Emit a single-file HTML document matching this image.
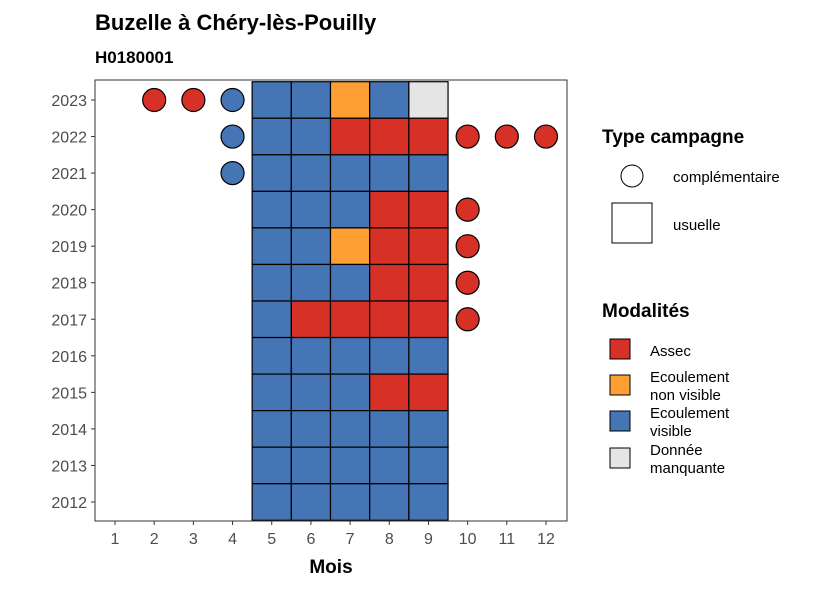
<!DOCTYPE html>
<html><head><meta charset="utf-8"><style>
body{margin:0;background:#fff;font-family:"Liberation Sans",sans-serif}
svg text{font-family:"Liberation Sans",sans-serif}
</style></head><body>
<svg id="c" width="826" height="590" xmlns="http://www.w3.org/2000/svg">
<text x="95" y="30" font-size="22" font-weight="bold" fill="#000">Buzelle à Chéry-lès-Pouilly</text>
<text x="95" y="63" font-size="17" font-weight="bold" fill="#000">H0180001</text>
<g id="marks"></g>
<rect x="95" y="80" width="472" height="441" fill="none" stroke="#333" stroke-width="1"/>
<g id="axes"></g>
<text x="331" y="573" font-size="19" font-weight="bold" text-anchor="middle">Mois</text>
<g>
<text x="602" y="143" font-size="19" font-weight="bold">Type campagne</text>
<circle cx="632" cy="176" r="11" fill="#fff" stroke="#000"/>
<text x="673" y="182" font-size="15">complémentaire</text>
<rect x="612" y="203" width="40" height="40" fill="#fff" stroke="#000"/>
<text x="673" y="230" font-size="15">usuelle</text>
</g>
<g>
<text x="602" y="317" font-size="19" font-weight="bold">Modalités</text>
<rect x="610" y="339" width="20" height="20" fill="#D73027" stroke="#000"/>
<text x="650" y="356" font-size="15">Assec</text>
<rect x="610" y="375" width="20" height="20" fill="#FD9F33" stroke="#000"/>
<text x="650" y="382" font-size="15"><tspan x="650">Ecoulement</tspan><tspan x="650" dy="18">non visible</tspan></text>
<rect x="610" y="411" width="20" height="20" fill="#4575B4" stroke="#000"/>
<text x="650" y="418" font-size="15"><tspan x="650">Ecoulement</tspan><tspan x="650" dy="18">visible</tspan></text>
<rect x="610" y="448" width="20" height="20" fill="#E5E5E5" stroke="#000"/>
<text x="650" y="455" font-size="15"><tspan x="650">Donnée</tspan><tspan x="650" dy="18">manquante</tspan></text>
</g>
</svg>
<script>
const years=[2023,2023,2023,2023,2023,2023,2023,2023,
2022,2022,2022,2022,2022,2022,2022,2022,2022,
2021,2021,2021,2021,2021,2021,
2020,2020,2020,2020,2020,2020,
2019,2019,2019,2019,2019,2019,
2018,2018,2018,2018,2018,2018,
2017,2017,2017,2017,2017,2017,
2016,2016,2016,2016,2016,
2015,2015,2015,2015,2015,
2014,2014,2014,2014,2014,
2013,2013,2013,2013,2013,
2012,2012,2012,2012,2012];
const months=[2,3,4,5,6,7,8,9,
4,5,6,7,8,9,10,11,12,
4,5,6,7,8,9,
5,6,7,8,9,10,
5,6,7,8,9,10,
5,6,7,8,9,10,
5,6,7,8,9,10,
5,6,7,8,9,
5,6,7,8,9,
5,6,7,8,9,
5,6,7,8,9,
5,6,7,8,9];
const types=["c","c","c","u","u","u","u","u",
"c","u","u","u","u","u","c","c","c",
"c","u","u","u","u","u",
"u","u","u","u","u","c",
"u","u","u","u","u","c",
"u","u","u","u","u","c",
"u","u","u","u","u","c",
"u","u","u","u","u","u","u","u","u","u","u","u","u","u","u","u","u","u","u","u","u","u","u","u","u"];
const values=["A","A","V","V","V","N","V","M",
"V","V","V","A","A","A","A","A","A",
"V","V","V","V","V","V",
"V","V","V","A","A","A",
"V","V","N","A","A","A",
"V","V","V","A","A","A",
"V","A","A","A","A","A",
"V","V","V","V","V",
"V","V","V","A","A",
"V","V","V","V","V",
"V","V","V","V","V",
"V","V","V","V","V"];
const xTicks=[1,2,3,4,5,6,7,8,9,10,11,12];
const yTicks=[2012,2013,2014,2015,2016,2017,2018,2019,2020,2021,2022,2023];
const colors={A:"#D73027",N:"#FD9F33",V:"#4575B4",M:"#E5E5E5"};
const NS="http://www.w3.org/2000/svg";
const xs=m=>115+(m-1)*(546-115)/11;
const ys=y=>502-(y-2012)*(502-100)/11;
const bw=(546-115)/11, bh=(502-100)/11;
const g=document.getElementById('marks');
for(let i=0;i<years.length;i++){
  let el;
  if(types[i]==="u"){
    el=document.createElementNS(NS,'rect');
    el.setAttribute('x',xs(months[i])-bw/2);el.setAttribute('y',ys(years[i])-bh/2);
    el.setAttribute('width',bw);el.setAttribute('height',bh);
    
  }else{
    el=document.createElementNS(NS,'circle');
    el.setAttribute('cx',xs(months[i]));el.setAttribute('cy',ys(years[i]));el.setAttribute('r',11.5);
    
  }
  
  el.setAttribute('fill',colors[values[i]]);el.setAttribute('stroke','#000');el.setAttribute('stroke-width','1.2');
  g.appendChild(el);
}
const a=document.getElementById('axes');
xTicks.forEach(m=>{
  const l=document.createElementNS(NS,'line');
  l.setAttribute('x1',xs(m));l.setAttribute('x2',xs(m));l.setAttribute('y1',521);l.setAttribute('y2',525);l.setAttribute('stroke','#333');
  
  
  a.appendChild(l);
  const t=document.createElementNS(NS,'text');
  t.setAttribute('x',xs(m));t.setAttribute('y',544);t.setAttribute('font-size','16');t.setAttribute('fill','#4d4d4d');t.setAttribute('text-anchor','middle');
  t.textContent=m;
  
  
  a.appendChild(t);
});
yTicks.forEach(y=>{
  const l=document.createElementNS(NS,'line');
  l.setAttribute('x1',91);l.setAttribute('x2',95);l.setAttribute('y1',ys(y));l.setAttribute('y2',ys(y));l.setAttribute('stroke','#333');
  
  
  a.appendChild(l);
  const t=document.createElementNS(NS,'text');
  t.setAttribute('x',87);t.setAttribute('y',ys(y)+6);t.setAttribute('font-size','16');t.setAttribute('fill','#4d4d4d');t.setAttribute('text-anchor','end');
  t.textContent=y;
  
  
  a.appendChild(t);
});
</script>
</body></html>
